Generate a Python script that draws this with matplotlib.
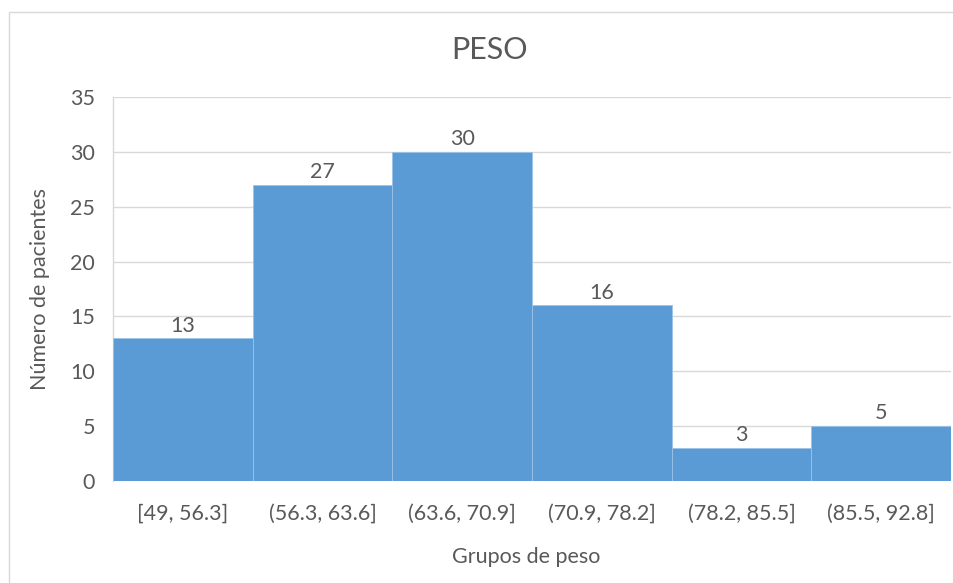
import matplotlib
matplotlib.use('Agg')
import matplotlib.pyplot as plt
import matplotlib.patches as patches

# datos del histograma
grupos = ['[49, 56.3]', '(56.3, 63.6]', '(63.6, 70.9]', '(70.9, 78.2]', '(78.2, 85.5]', '(85.5, 92.8]']
pacientes = [13, 27, 30, 16, 3, 5]
yticks = [0, 5, 10, 15, 20, 25, 30, 35]

plt.rcParams['font.family'] = ['Lato', 'DejaVu Sans']
gris = '#595959'
fs = 15.5

fig = plt.figure(figsize=(9.54, 5.83), dpi=100)
ax = fig.add_axes([113/954, 1 - 481/583, (951 - 113)/954, (481 - 97)/583])

# marco del grafico
marco = patches.Rectangle((9.5/954, -0.1), 2, 1.1 - 12.5/583, transform=fig.transFigure,
                          fill=False, edgecolor='#D9D9D9', linewidth=1.0)
fig.add_artist(marco)

x = range(len(grupos))
bars = ax.bar(x, pacientes, width=1.0, color='#5B9BD5', edgecolor='#9DC3E6', linewidth=0.6, zorder=3)
ax.bar_label(bars, padding=2, fontsize=fs, color=gris)

ax.set_xlim(-0.5, len(grupos) - 0.5)
ax.set_ylim(0, 35)
ax.set_yticks(yticks)
ax.set_xticks(list(x))
ax.set_xticklabels(grupos)

ax.grid(axis='y', color='#D9D9D9', linewidth=1.0, zorder=0)
ax.set_axisbelow(True)
for s in ['top', 'right', 'bottom']:
    ax.spines[s].set_visible(False)
ax.spines['left'].set_color('#D9D9D9')
ax.spines['left'].set_linewidth(1.0)

ax.tick_params(axis='both', length=0, labelsize=fs, labelcolor=gris)
ax.tick_params(axis='y', pad=13)
ax.tick_params(axis='x', pad=16)

# titulo centrado en el marco, no en los ejes
fig.text(490/954, 1 - 50/583, 'PESO', fontsize=22, color=gris, ha='center', va='center')
ax.set_ylabel('Número de pacientes', fontsize=fs, color=gris, labelpad=14)
ax.set_xlabel('Grupos de peso', fontsize=fs, color=gris, labelpad=17)
ax.xaxis.label.set_x((526 - 113) / 838)

fig.savefig('out.png', dpi=100)
